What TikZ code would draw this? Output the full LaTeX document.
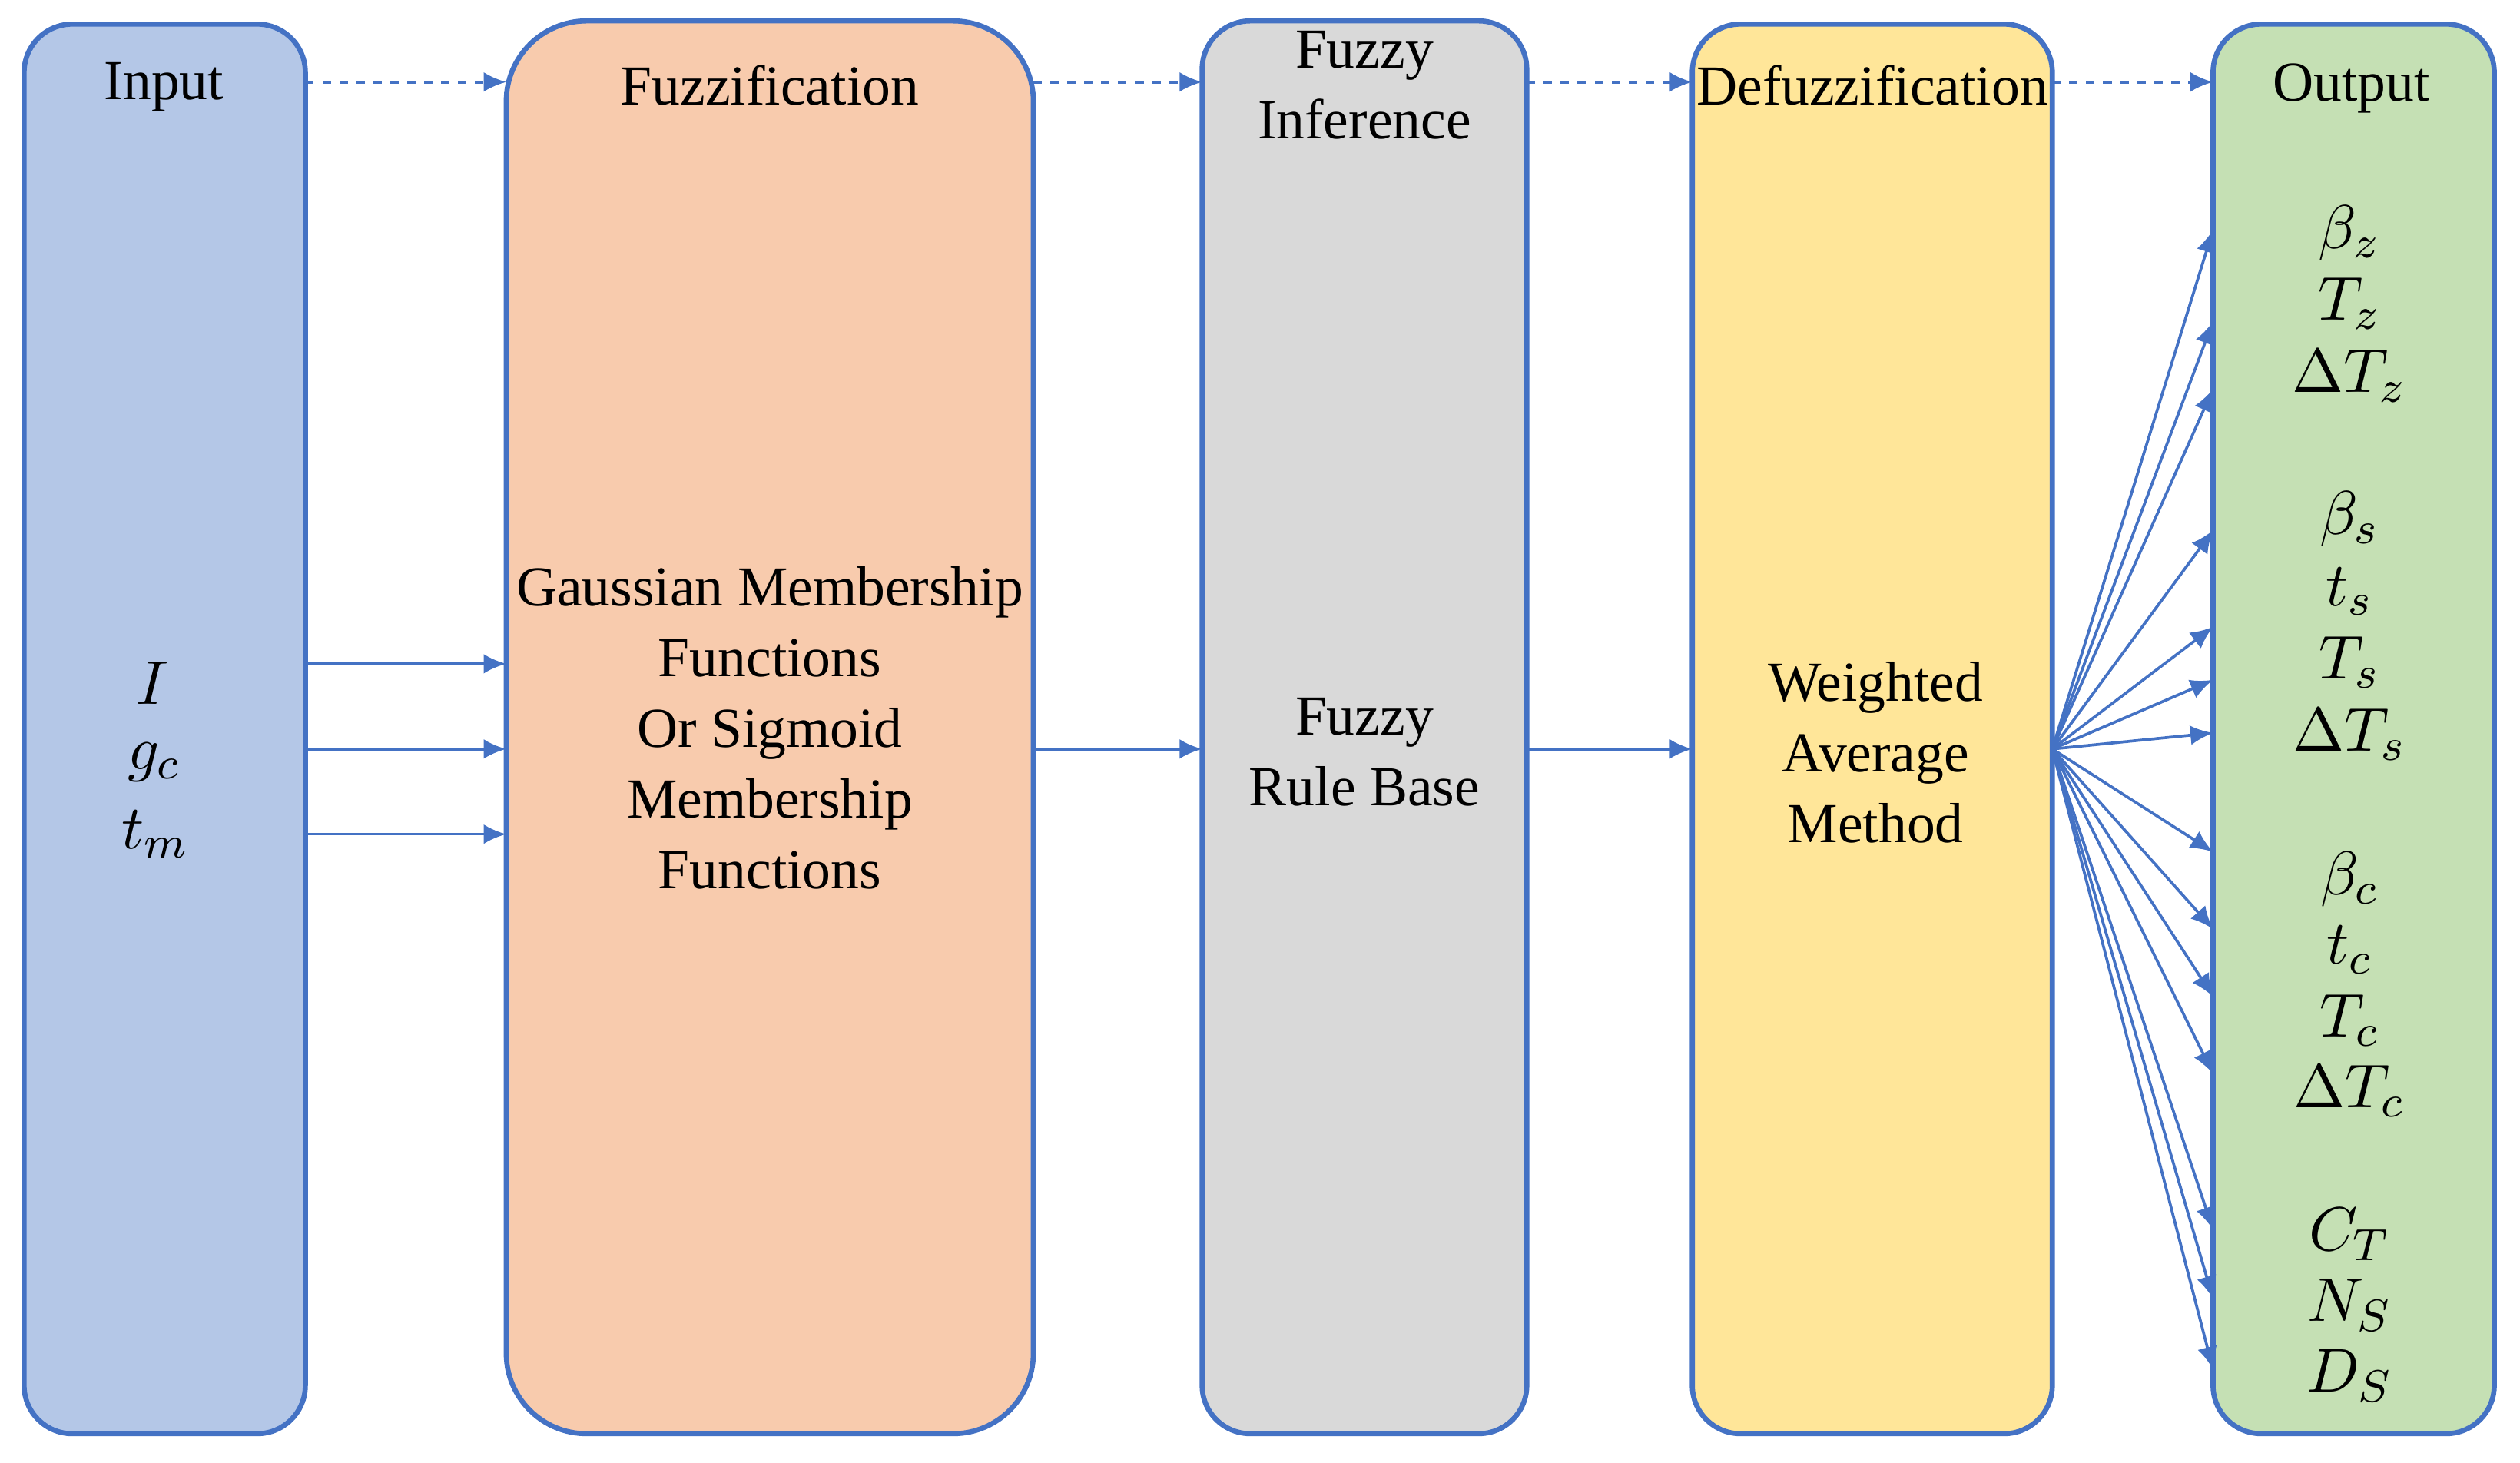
\documentclass[tikz,border=0pt]{standalone}
\usepackage{fontspec}
\setmainfont{Liberation Serif}
\usetikzlibrary{arrows.meta}
\definecolor{bd}{HTML}{4472C4}
\definecolor{cin}{HTML}{B4C7E7}
\definecolor{cfz}{HTML}{F8CBAD}
\definecolor{cinf}{HTML}{D9D9D9}
\definecolor{cdf}{HTML}{FFE699}
\definecolor{cout}{HTML}{C5E0B4}
\begin{document}
\begin{tikzpicture}[x=0.01cm,y=-0.01cm,
  box/.style={draw=bd,line width=0.9pt,rounded corners=0.3cm},
  lab/.style={font=\fontsize{10}{12.5}\selectfont,align=center,inner sep=0},
  mlab/.style={lab,font=\fontsize{11}{13}\selectfont},
  arr/.style={draw=bd,line width=0.5pt,-{Latex[length=4pt,width=3.5pt]}},
  dar/.style={arr,dash pattern=on 1.5pt off 1.5pt}]
\useasboundingbox (0,0) rectangle (1568,910);
\draw[box,fill=cin] (15,15) rectangle (190,892);
\draw[box,fill=cfz,rounded corners=0.5cm] (315,13) rectangle (643,892);
\draw[box,fill=cinf] (748,13) rectangle (950,892);
\draw[box,fill=cdf] (1053,15) rectangle (1277,892);
\draw[box,fill=cout] (1377,15) rectangle (1552,892);
\node[lab] (tin) at (102,54) {Input};
\node[lab] (tfz) at (479,53) {Fuzzification};
\node[lab] (tinf) at (849,53) {Fuzzy\\Inference};
\node[lab] (tdf) at (1165,53) {Defuzzification};
\node[lab] (tout) at (1463,55) {Output};
\node[mlab] (v1) at (95,425) {$I$};
\node[mlab] (v2) at (96,474) {$g_c$};
\node[mlab] (v3) at (97,519) {$t_m$};
\node[lab] (fz) at (479,453) {Gaussian Membership\\Functions\\Or Sigmoid\\Membership\\Functions};
\node[lab] (inf) at (849,468) {Fuzzy\\Rule Base};
\node[lab] (df) at (1167,468) {Weighted\\Average\\Method};
\coordinate (a1) at (190,51); \coordinate (b1) at (315,51);
\coordinate (a2) at (643,51); \coordinate (b2) at (748,51);
\coordinate (a3) at (950,51); \coordinate (b3) at (1053,51);
\coordinate (a4) at (1277,51); \coordinate (b4) at (1377,51);
\draw[dar] (a1)--(b1); \draw[dar] (a2)--(b2); \draw[dar] (a3)--(b3); \draw[dar] (a4)--(b4);
\foreach \y in {413,466,519}{\coordinate (p) at (190,\y); \coordinate (q) at (315,\y); \draw[arr] (p)--(q);}
\coordinate (f1) at (643,466); \coordinate (f2) at (748,466);
\coordinate (g1) at (950,466); \coordinate (g2) at (1053,466);
\draw[arr] (f1)--(f2); \draw[arr] (g1)--(g2);
\coordinate (hub) at (1277,466);
\foreach \y in {143,200,242,330,390,423,456,530,578,620,668,765,808,852}{\coordinate (t) at (1377,\y); \draw[arr] (hub)--(t);}
\foreach \t/\y in {{\beta_z}/145,{T_z}/189,{\Delta T_z}/234,{\beta_s}/323,{t_s}/368,{T_s}/412,{\Delta T_s}/457,{\beta_c}/547,{t_c}/591,{T_c}/635,{\Delta T_c}/679,{C_T}/768,{N_S}/812,{D_S}/856}
  \node[mlab] at (1462,\y) {$\t$};
\end{tikzpicture}
\end{document}
